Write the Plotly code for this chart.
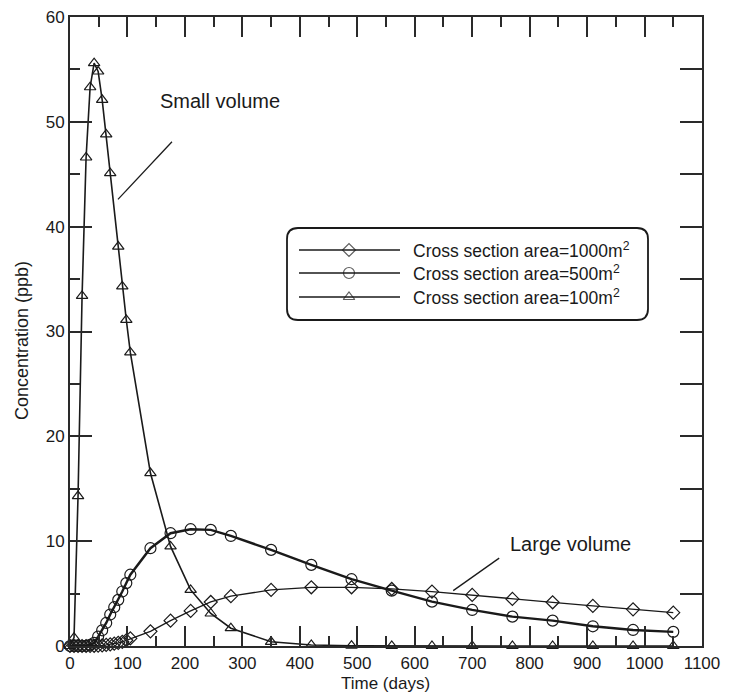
import plotly.graph_objects as go

# ---------------- data ----------------
t_early = [0, 7, 14, 21, 28, 35, 42, 49, 56, 63, 70, 77, 84, 91, 98, 105]
t_late = [140, 175, 210, 245, 280, 350, 420, 490, 560, 630, 700, 770, 840, 910, 980, 1050]
time_days = t_early + t_late

c_1000 = [0, 0, 0, 0, 0, 0.01, 0.02, 0.04, 0.06, 0.1, 0.15, 0.22, 0.3, 0.4, 0.55, 0.72,
          1.4, 2.42, 3.35, 4.2, 4.75, 5.35, 5.6, 5.6, 5.44, 5.19, 4.87, 4.49, 4.17, 3.82, 3.5, 3.18]
c_500 = [0, 0, 0, 0, 0.02, 0.1, 0.3, 0.9, 1.5, 2.2, 3.0, 3.7, 4.4, 5.2, 6.0, 6.8,
         9.33, 10.76, 11.14, 11.08, 10.5, 9.17, 7.74, 6.37, 5.28, 4.23, 3.44, 2.8, 2.42, 1.88, 1.53, 1.35]
tri_t = [0, 7, 14, 21, 28, 35, 42, 49, 56, 63, 70, 84, 91, 98, 105,
         140, 175, 210, 245, 280, 350, 420, 490, 560, 630, 700, 770, 840, 910, 980, 1050]
c_100 = [0, 0.8, 14.3, 33.4, 46.6, 53.3, 55.6, 54.8, 52.1, 48.8, 45.1, 38.1, 34.3, 31.1, 28.0,
         16.5, 9.5, 5.35, 3.1, 1.7, 0.4, 0.1, 0.03, 0.01, 0, 0, 0, 0, 0, 0, 0]

legend_labels = ["Cross section area=1000m<sup>2</sup>",
                 "Cross section area=500m<sup>2</sup>",
                 "Cross section area=100m<sup>2</sup>"]
x_ticks = list(range(0, 1101, 100))
y_ticks = list(range(0, 61, 10))
y_right_ticks = list(range(5, 60, 5))

# ---------------- style ----------------
INK = "#1a1a1a"
AX = "#2a2a2a"
FONT = "Liberation Sans, Arial, sans-serif"
symbols = ["diamond-open", "circle-open", "triangle-up-open"]
msizes = [10, 11, 10]
lwidths = [1.3, 2.4, 1.6]

fig = go.Figure()
series = [(time_days, c_1000), (time_days, c_500), (tri_t, c_100)]
for i, (xs, ys) in enumerate(series):
    fig.add_trace(go.Scatter(
        x=xs, y=ys, mode="lines+markers", showlegend=False,
        line=dict(color=INK, width=lwidths[i]),
        marker=dict(symbol=symbols[i], size=msizes[i], color=INK,
                    line=dict(width=1.2, color=INK)),
        cliponaxis=False))

# ---------------- custom legend (paper coords) ----------------
W, H = 729, 692
L, R, T, B = 70, 27, 17, 46
pw, ph = W - L - R, H - T - B
def px2x(px): return (px - L) / pw
def px2y(py): return (H - B - py) / ph

bx0, bx1, by0, by1 = px2x(287), px2x(648), px2y(320), px2y(228)
rx, ry = 11 / pw, 11 / ph
path = (f"M{bx0+rx},{by1} L{bx1-rx},{by1} Q{bx1},{by1} {bx1},{by1-ry} "
        f"L{bx1},{by0+ry} Q{bx1},{by0} {bx1-rx},{by0} L{bx0+rx},{by0} "
        f"Q{bx0},{by0} {bx0},{by0+ry} L{bx0},{by1-ry} Q{bx0},{by1} {bx0+rx},{by1} Z")
shapes = [dict(type="path", path=path, xref="paper", yref="paper",
               line=dict(color=INK, width=1.8), fillcolor="rgba(0,0,0,0)", layer="above")]
rows_py = [250, 273, 297]
annotations = []
for i, py in enumerate(rows_py):
    yy = px2y(py)
    shapes.append(dict(type="line", xref="paper", yref="paper", x0=px2x(299), x1=px2x(400),
                       y0=yy, y1=yy, line=dict(color=INK, width=1.3), layer="above"))
    annotations.append(dict(xref="paper", yref="paper", x=px2x(411), y=yy, text=legend_labels[i],
                            showarrow=False, xanchor="left", yanchor="middle",
                            font=dict(size=17.5, color=INK, family=FONT)))
fig.add_trace(go.Scatter(
    x=[px2x(349)] * 3, y=[px2y(p) for p in rows_py], xaxis="x2", yaxis="y2",
    mode="markers", showlegend=False, hoverinfo="skip", cliponaxis=False,
    marker=dict(symbol=symbols, size=msizes, color=INK,
                line=dict(width=1.2, color=INK))))
# empty trace to host the mirrored (top/right) tick axes
fig.add_trace(go.Scatter(x=[], y=[], xaxis="x3", yaxis="y3", showlegend=False, hoverinfo="skip"))

# ---------------- callouts & axis titles ----------------
annotations.append(dict(x=153, y=52.0, xref="x", yref="y", text="Small volume", showarrow=False,
                        xanchor="left", yanchor="middle", font=dict(size=20, color=INK, family=FONT)))
annotations.append(dict(x=762, y=9.74, xref="x", yref="y", text="Large volume", showarrow=False,
                        xanchor="left", yanchor="middle", font=dict(size=20, color=INK, family=FONT)))
annotations.append(dict(x=px2x(385), y=px2y(683), xref="paper", yref="paper", text="Time (days)",
                        showarrow=False, xanchor="center", yanchor="middle",
                        font=dict(size=17, color=INK, family=FONT)))
annotations.append(dict(x=px2x(22), y=px2y(341), xref="paper", yref="paper", text="Concentration (ppb)",
                        showarrow=False, xanchor="center", yanchor="middle", textangle=-90,
                        font=dict(size=18, color=INK, family=FONT)))
shapes.append(dict(type="line", xref="x", yref="y", x0=177.5, y0=48.1, x1=83.5, y1=42.6,
                   line=dict(color=INK, width=1.3)))
shapes.append(dict(type="line", xref="x", yref="y", x0=747, y0=8.38, x1=667, y1=5.28,
                   line=dict(color=INK, width=1.3)))

common = dict(showgrid=False, zeroline=False, showline=True, linecolor=AX, automargin=False,
              linewidth=2, ticks="inside", tickcolor=AX, tickwidth=2,
              tickfont=dict(size=17, color=INK, family=FONT))
fig.update_layout(
    width=W, height=H, margin=dict(l=L, r=R, t=T, b=B),
    paper_bgcolor="white", plot_bgcolor="white",
    font=dict(family=FONT, color=INK),
    xaxis=dict(range=[0, 1100], tickvals=x_ticks, ticklen=20, ticklabelstandoff=1,
               minor=dict(dtick=50, ticklen=10, ticks="inside", tickcolor=AX, tickwidth=2),
               **common),
    yaxis=dict(range=[0, 60], tickvals=y_ticks, ticklen=22,
               minor=dict(dtick=5, ticklen=10, ticks="inside", tickcolor=AX, tickwidth=2),
               **common),
    xaxis2=dict(range=[0, 1], overlaying="x", visible=False, fixedrange=True),
    yaxis2=dict(range=[0, 1], overlaying="y", visible=False, fixedrange=True),
    xaxis3=dict(range=[0, 1100], overlaying="x", side="top", anchor="y3", tickvals=x_ticks,
                ticklen=20, showticklabels=False,
                minor=dict(dtick=50, ticklen=10, ticks="inside", tickcolor=AX, tickwidth=2),
                **common),
    yaxis3=dict(range=[0, 60], overlaying="y", side="right", anchor="x3", tickvals=y_right_ticks,
                ticklen=22, showticklabels=False, **common),
    shapes=shapes, annotations=annotations,
)
fig.write_html("out.html")
